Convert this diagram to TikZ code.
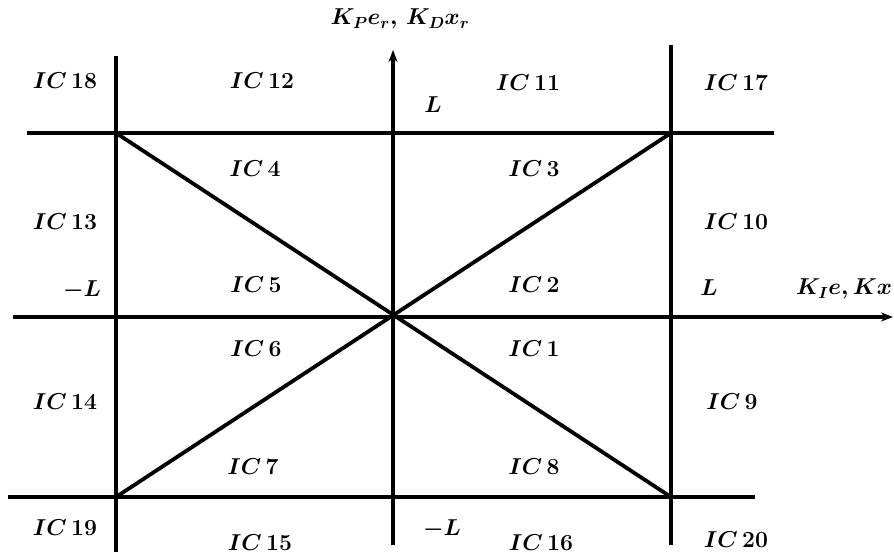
\documentclass[tikz,border=0pt]{standalone}
\usepackage{fix-cm}
\usepackage{amsmath}
\usetikzlibrary{arrows.meta}
\begin{document}
\begin{tikzpicture}[x=1pt,y=-1pt,
  ln/.style={line width=3.8pt,black},
  ax/.style={line width=3.8pt,black,-{Stealth[length=12pt,width=9pt]}},
  lbl/.style={font=\fontsize{23}{26}\selectfont\boldmath,inner sep=0pt}]
\useasboundingbox (0,0) rectangle (894,555);
% key points
\coordinate (O) at (393,317);
\coordinate (A) at (116,133);
\coordinate (B) at (671,133);
\coordinate (C) at (116,497);
\coordinate (D) at (671,497);
\coordinate (vtop) at (393,50);
\coordinate (vbot) at (393,545);
\coordinate (hl) at (13,317);
\coordinate (hr) at (893,317);
\coordinate (ltop) at (116,56);
\coordinate (lbot) at (116,552);
\coordinate (rtop) at (671,45);
\coordinate (rbot) at (671,545);
\coordinate (tl) at (27,133);
\coordinate (tr) at (774,133);
\coordinate (bl) at (8,497);
\coordinate (br) at (755,497);
% lines
\draw[ax] (vbot) -- (vtop);
\draw[ax] (hl) -- (hr);
\draw[ln] (ltop) -- (lbot);
\draw[ln] (rtop) -- (rbot);
\draw[ln] (tl) -- (tr);
\draw[ln] (bl) -- (br);
\draw[ln] (A) -- (D);
\draw[ln] (B) -- (C);
% axis labels
\node[lbl] (ylab) at (400,19) {$K_P e_r,\, K_D x_r$};
\node[lbl] (xlab) at (844,289) {$K_I e, Kx$};
% L labels
\node[lbl] (Ltop) at (433,105) {$L$};
\node[lbl] (Lbot) at (442,529) {$-L$};
\node[lbl] (Lleft) at (82,290) {$-L$};
\node[lbl] (Lright) at (709,288) {$L$};
% regions
\node[lbl] (ic18) at (65,81) {$IC\,\mathbf{18}$};
\node[lbl] (ic12) at (262,81) {$IC\,\mathbf{12}$};
\node[lbl] (ic11) at (528,83) {$IC\,\mathbf{11}$};
\node[lbl] (ic17) at (736,83) {$IC\,\mathbf{17}$};
\node[lbl] (ic4) at (255,169) {$IC\,\mathbf{4}$};
\node[lbl] (ic3) at (534,169) {$IC\,\mathbf{3}$};
\node[lbl] (ic13) at (65,222) {$IC\,\mathbf{13}$};
\node[lbl] (ic10) at (736,222) {$IC\,\mathbf{10}$};
\node[lbl] (ic5) at (256,285) {$IC\,\mathbf{5}$};
\node[lbl] (ic2) at (534,285) {$IC\,\mathbf{2}$};
\node[lbl] (ic6) at (256,349) {$IC\,\mathbf{6}$};
\node[lbl] (ic1) at (534,349) {$IC\,\mathbf{1}$};
\node[lbl] (ic14) at (65,402) {$IC\,\mathbf{14}$};
\node[lbl] (ic9) at (732,402) {$IC\,\mathbf{9}$};
\node[lbl] (ic7) at (253,467) {$IC\,\mathbf{7}$};
\node[lbl] (ic8) at (534,467) {$IC\,\mathbf{8}$};
\node[lbl] (ic19) at (65,528) {$IC\,\mathbf{19}$};
\node[lbl] (ic15) at (260,543) {$IC\,\mathbf{15}$};
\node[lbl] (ic16) at (541,543) {$IC\,\mathbf{16}$};
\node[lbl] (ic20) at (736,540) {$IC\,\mathbf{20}$};
\end{tikzpicture}
\end{document}
